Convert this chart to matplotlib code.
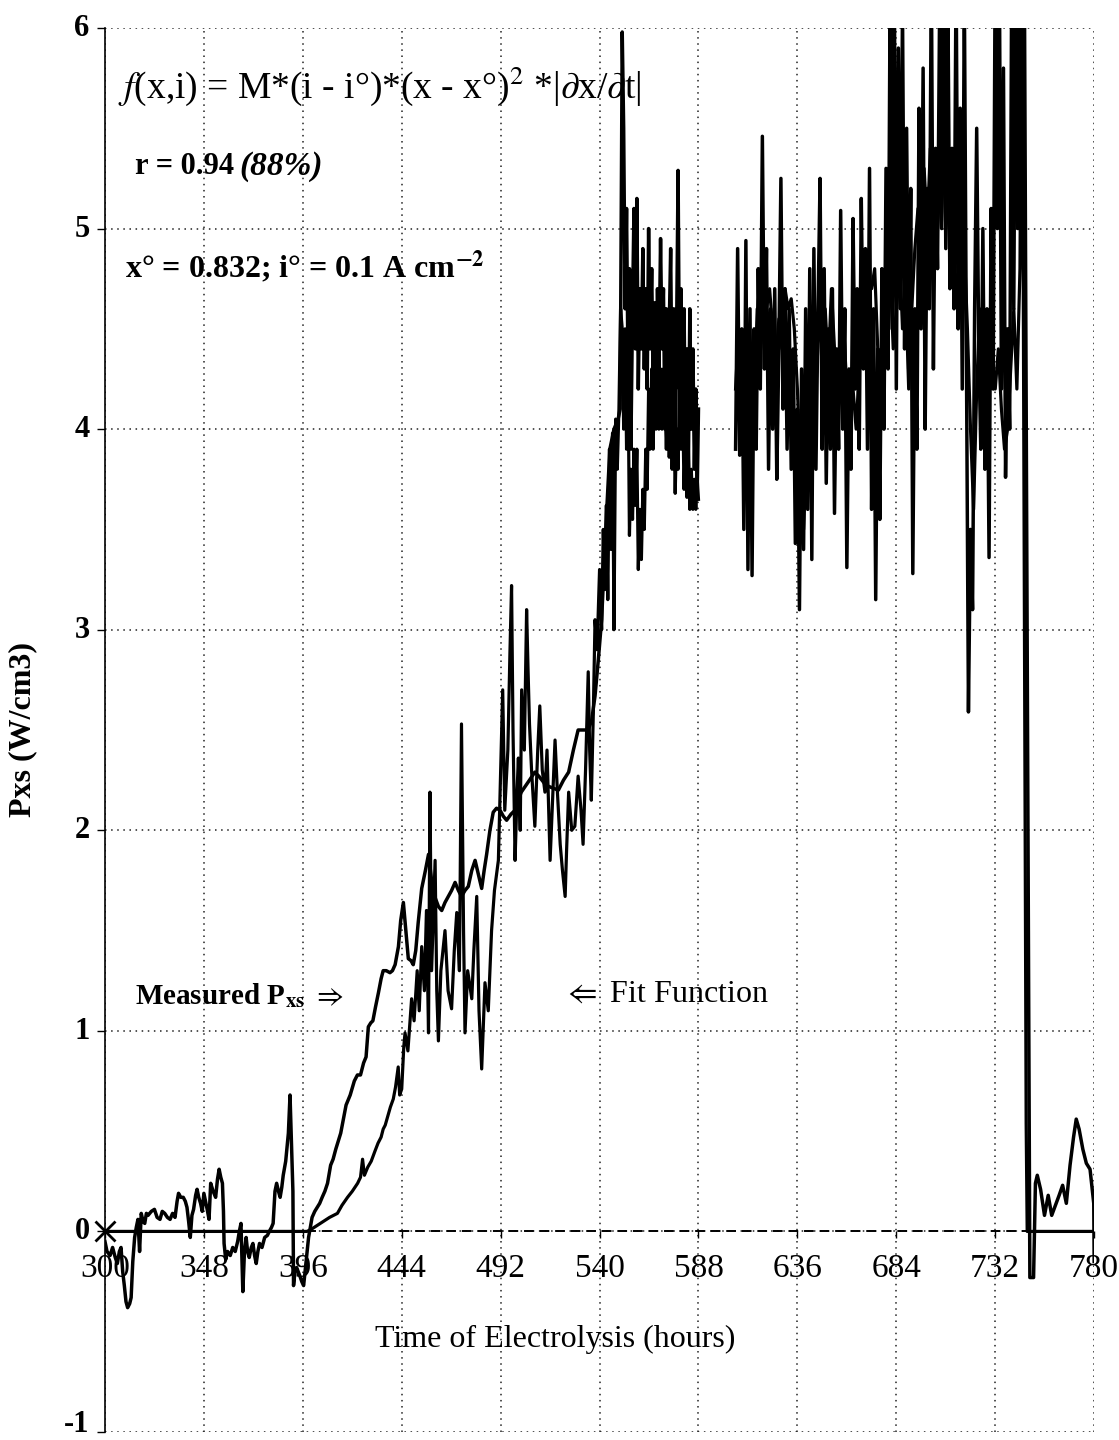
import numpy as np
import matplotlib
matplotlib.use("Agg")
import matplotlib.pyplot as plt
from matplotlib.transforms import ScaledTranslation

plt.rcParams['font.family'] = ['Liberation Serif', 'DejaVu Serif']
plt.rcParams['mathtext.fontset'] = 'stix'
plt.rcParams['axes.unicode_minus'] = False

# ---------------- data ----------------
x_ticks = [300, 348, 396, 444, 492, 540, 588, 636, 684, 732, 780]
y_ticks = [-1, 0, 1, 2, 3, 4, 5, 6]

# Measured Pxs
meas_t = [300, 301, 302.5, 303.7, 305, 306, 307, 307.8, 308.6, 309.4, 310.2, 311, 312, 312.7,
          313.5, 314.4, 315.2, 316, 316.8, 317.6, 318.5, 319.3, 320.1, 320.9, 322.5, 324, 325.3,
          326.7, 327.8, 329, 330.3, 331.6, 332.8, 334, 335, 335.7, 336.8, 338, 339, 339.8, 340.6,
          341.4, 342.2, 343, 344, 344.7, 345.5, 346.4, 347.2, 348, 348.8, 349.6, 350.5, 351.3,
          352.5, 353.7, 354.6, 355.4, 356.2, 357, 357.5, 357.8, 358.6, 359.5, 360.8, 362, 363.2,
          364.4, 365.2, 366, 366.9, 367.7, 368.5, 369.2, 370, 371, 371.8, 372.6, 373.4, 374.2,
          375, 376.2, 377.5, 378.8, 380, 380.8, 381.6, 382.5, 383.3, 384.2, 385, 385.8, 386.5,
          387.7, 389, 389.8, 390.6, 391.2, 391.5, 392.2, 393, 394.5, 395.5, 396.4, 397.6, 398.8,
          400.5, 401.8, 403, 404.2, 405.4, 406.7, 408, 409.5, 410.7, 412, 413.2, 414.4, 415.7,
          417, 419, 421, 422.5, 424, 425.5, 426.7, 427.8, 429, 430, 431.3, 432.7, 434, 435,
          436.5, 438.3, 439.5, 440.8, 442.4, 443.5, 444.8, 446, 447.2, 448.5, 449.6, 450.8, 452,
          453.7, 455.5, 457, 458.5, 460, 461.8, 463.4, 465, 466.6, 468.2, 469.9, 471.5, 473,
          474.7, 476.3, 478, 479.6, 481.2, 482.8, 484, 485.2, 486.8, 488.4, 490, 491.7, 493.3,
          494.9, 497, 499, 500.5, 502, 504, 506, 508.6, 510.5, 512.8, 515, 517.5, 520, 522.5,
          525, 527.3, 529.6, 532, 534.5, 536.2, 537.8, 539.4, 541, 543, 545, 547, 549, 550,
          551, 551.7, 552.4, 553.1, 553.8, 554.5, 555.2, 556, 556.7, 557.4, 558.1, 558.8, 559.5,
          560.3, 561, 561.7, 562.4, 563.1, 563.8, 564.5, 565.3, 566, 566.7, 567.4, 568.1, 568.8,
          569.6, 570.3, 571, 571.7, 572.4, 573.1, 573.8, 574.5, 575.2, 576, 576.7, 577.4, 578.1,
          578.8, 579.5, 580.2, 581, 581.7, 582.4, 583.1, 583.8, 584.5, 585.3, 586, 586.7, 587.4,
          588,
          597,
          606, 607, 608, 609, 610, 611, 612, 613, 614, 615, 616, 617, 618, 619, 620, 621, 622,
          623, 624, 625, 626, 627, 628, 629, 630, 631, 632, 633, 634, 635, 636, 637, 638, 639,
          640, 641, 642, 643, 644, 645, 646, 647, 648, 649, 650, 651, 652, 653, 654, 655, 656,
          657, 658, 659, 660, 661, 662, 663, 664, 665, 666, 667, 668, 669, 670, 671, 672, 673,
          674, 675, 676, 677, 678, 679, 680, 681, 682, 683, 684, 685, 686, 687, 688, 689, 690,
          691, 692, 693, 694, 695, 696, 697, 698, 699, 700, 701, 702, 703, 704, 705, 706, 707,
          708, 709, 710, 711, 712, 713, 714, 715, 716, 717, 718, 719, 720, 721, 722, 723, 724,
          725, 726, 727, 728, 729, 730, 731, 732, 733, 734, 735, 736, 737, 738, 739, 740, 741,
          742, 743, 744, 745,
          746, 748.8, 750.6, 751.5, 752.4, 754, 755.9, 757.7, 759.4, 761.2, 763, 764.7, 766.5,
          768.3, 770, 771.3, 772.7, 774.5, 776.2, 778, 779.8, 780]
meas_p = [-0.05, -0.1, -0.12, -0.08, -0.13, -0.16, -0.1, -0.08, -0.2, -0.27, -0.35, -0.38, -0.36,
          -0.33, -0.15, -0.03, 0.02, 0.06, -0.1, 0.09, 0.05, 0.04, 0.09, 0.08, 0.1, 0.11, 0.07,
          0.06, 0.1, 0.09, 0.07, 0.06, 0.09, 0.07, 0.15, 0.19, 0.17, 0.17, 0.15, 0.12, 0.05,
          -0.03, 0.08, 0.11, 0.18, 0.21, 0.17, 0.14, 0.1, 0.19, 0.15, 0.11, 0.06, 0.24,
          0.2, 0.17, 0.26, 0.31, 0.27, 0.24, 0.1, -0.06, -0.14, -0.1, -0.12, -0.08, -0.1,
          -0.05, 0.0, 0.04, -0.3, -0.1, -0.03, -0.1, -0.13, -0.08, -0.06, -0.12, -0.16, -0.1,
          -0.06, -0.08, -0.03, -0.02, 0.005, 0.02, 0.04, 0.2, 0.24, 0.2, 0.17, 0.22, 0.28,
          0.35, 0.49, 0.68, 0.41, 0.2, -0.27, -0.2, -0.18, -0.22, -0.25, -0.27, -0.15, -0.03,
          0.07, 0.1, 0.12, 0.14, 0.17, 0.2, 0.24, 0.33, 0.36, 0.41, 0.45, 0.49, 0.56,
          0.63, 0.68, 0.75, 0.78, 0.78, 0.84, 0.87, 1.02, 1.04, 1.05, 1.12, 1.19, 1.26, 1.3,
          1.3, 1.29, 1.3, 1.33, 1.42, 1.55, 1.64, 1.5, 1.36, 1.35, 1.33, 1.4, 1.54,
          1.71, 1.8, 1.88, 1.75, 1.67, 1.62, 1.6, 1.64, 1.67, 1.7, 1.74, 1.7, 1.67,
          1.7, 1.72, 1.8, 1.85, 1.78, 1.71, 1.8, 1.88, 2.0, 2.09, 2.11, 2.1, 2.07,
          2.05, 2.08, 2.1, 2.15, 2.19, 2.22, 2.25, 2.29, 2.27, 2.24, 2.22, 2.21, 2.2, 2.25,
          2.29, 2.4, 2.5, 2.5, 2.5, 2.55, 2.67, 2.85, 3.05, 3.5, 3.9, 4.0, 4.05, 4.1,
          5.98, 5.5, 4.6, 5.1, 4.3, 4.8, 3.9, 4.6, 5.1, 4.4, 5.15, 4.2, 4.7,
          4.4, 4.9, 4.3, 4.7, 4.2, 5.0, 4.4, 4.8, 4.2, 4.63, 4.1, 4.7, 4.3,
          4.95, 4.4, 4.7, 4.0, 4.6, 3.9, 4.5, 4.9, 4.1, 4.6, 3.8, 4.5, 5.29,
          4.2, 4.7, 4.0, 4.6, 3.9, 4.4, 3.8, 4.6, 4.0, 4.4, 3.8, 4.2, 3.7,
          4.1,
          np.nan,
          3.9, 4.9, 3.87, 4.5, 3.5, 4.94, 3.3, 4.6, 3.27, 4.5, 3.9, 4.8, 4.2, 5.46, 4.3, 4.9, 3.8,
          4.6, 4.0, 4.7, 3.75, 4.4, 5.25, 4.1, 4.7, 3.9, 4.6, 3.8, 4.4, 3.43, 4.1, 3.1, 4.3, 3.4,
          4.6, 3.6, 4.8, 3.35, 4.9, 3.8, 4.6, 5.25, 3.9, 4.8, 3.73, 4.5, 3.9, 4.7, 3.58, 4.4, 3.9,
          5.09, 4.0, 4.6, 3.31, 4.3, 3.8, 5.05, 4.2, 4.7, 3.9, 5.15, 4.3, 4.9, 3.9, 5.3, 3.6, 4.6,
          3.15, 4.4, 3.55, 4.8, 4.0, 5.3, 4.3, 6.2, 4.5, 6.3, 4.2, 5.9, 4.6, 6.1, 4.4, 5.5, 4.3,
          5.2, 3.28, 4.6, 3.9, 5.6, 4.5, 5.8, 4.0, 5.2, 4.6, 6.3, 4.3, 5.4, 4.8, 6.1, 5.0, 6.4,
          4.9, 6.2, 4.7, 5.4, 4.6, 6.3, 4.5, 5.6, 4.2, 6.2, 4.4, 2.59, 3.5, 3.1, 4.6, 5.5, 4.4,
          3.9, 5.0, 3.8, 4.6, 3.36, 5.1, 4.2, 6.4, 5.0, 6.3, 4.2, 5.8, 3.76, 4.5, 4.0, 6.3, 4.6,
          6.5, 5.0, 6.6, 5.8,
          6.6, -0.23, -0.23, 0.24, 0.28, 0.21, 0.08, 0.18, 0.08, 0.13, 0.18, 0.23, 0.14,
          0.33, 0.47, 0.56, 0.51, 0.41, 0.34, 0.31, 0.14, -0.15]

# Fit function
fit_t = [300, 398, 400, 403, 406, 409, 412.8, 415, 417.7, 420, 422.6, 424, 425, 425.9, 427.5,
         429.2, 431, 432.5, 434, 435, 436, 437.4, 438.5, 439.9, 441, 442.3, 443, 444, 445,
         445.6, 447, 448.8, 450, 451.5, 452.5, 453.7, 455, 456, 457, 457.7, 458.5, 460.2, 461,
         461.8, 463, 465, 466.5, 468.2, 469.5, 470.7, 472, 473, 474, 474.7, 476, 478, 479,
         480.4, 481.5, 482.8, 483.5, 484.4, 486, 487.6, 489, 490.9, 492, 493, 494, 495.5,
         496.5, 497.3, 498, 499, 500, 500.6, 501.5, 502.2, 503.5, 504.6, 505.3, 506, 507,
         508.6, 510, 511, 512.2, 513.5, 514.5, 516, 517, 518.4, 519.5, 520.9, 522, 523.3,
         524, 525, 526.5, 528, 529.6, 531, 532, 533.2, 534.5, 535.2, 536, 537, 537.8, 538.8,
         540, 541, 541.8, 542.6, 543.3, 544, 544.8, 545.6, 546.3, 547, 547.8, 548.6, 549.4,
         550.2, 551, 551.7, 552.4, 553.1, 553.8, 554.5, 555.2, 556, 556.7, 557.4, 558.1, 558.8,
         559.5, 560.3, 561, 561.7, 562.4, 563.1, 563.8, 564.5, 565.3, 566, 566.7, 567.4, 568.1,
         568.8, 569.6, 570.3, 571, 571.7, 572.4, 573.1, 573.8, 574.5, 575.2, 576, 576.7, 577.4,
         578.1, 578.8, 579.5, 580.2, 581, 581.7, 582.4, 583.1, 583.8, 584.5, 585.3, 586, 586.7,
         587.4, 588,
         597,
         606, 607.5, 609, 610.5, 612, 613.5, 615, 616.5, 618, 619.5, 621, 622.5, 624, 625.5,
         627, 628.5, 630, 631.5, 633, 634.5, 636, 637.5, 639, 640.5, 642, 643.5, 645, 646.5,
         648, 649.5, 651, 652.5, 654, 655.5, 657, 658.5, 660, 661.5, 663, 664.5, 666, 667.5,
         669, 670.5, 672, 673.5, 675, 676.5, 678, 679.5, 681, 682.5, 684, 685.5, 687, 688.5,
         690, 691.5, 693, 694.5, 696, 697.5, 699, 700.5, 702, 703.5, 705, 706.5, 708, 709.5,
         711, 712.5, 714, 715.5, 717, 718.5, 720, 721.5, 723, 724.5, 726, 727.5, 729, 730.5,
         732, 733.5, 735, 736.5, 738, 739.5, 741, 742.5, 744, 745, 747, 747.5, 780]
fit_p = [0, 0, 0.01, 0.03, 0.05, 0.07, 0.09, 0.13, 0.17, 0.2, 0.24, 0.27, 0.36, 0.28, 0.32,
         0.35, 0.40, 0.44, 0.47, 0.51, 0.53, 0.58, 0.62, 0.66, 0.72, 0.82, 0.68, 0.71, 0.92,
         0.99, 0.9, 1.16, 1.05, 1.3, 1.1, 1.42, 1.2, 1.6, 0.99, 2.19, 1.3, 1.85, 1.2,
         0.95, 1.3, 1.5, 1.2, 1.11, 1.4, 1.59, 1.3, 2.53, 1.5, 0.99, 1.3, 1.16, 1.4,
         1.67, 1.1, 0.81, 1.0, 1.24, 1.1, 1.5, 1.7, 1.85, 2.3, 2.7, 2.1, 2.4,
         2.88, 3.22, 2.5, 1.85, 2.2, 2.36, 2.0, 2.7, 2.4, 3.1, 2.8, 2.53, 2.3,
         2.02, 2.4, 2.62, 2.3, 2.19, 2.4, 1.85, 2.1, 2.45, 2.2, 1.93, 1.8, 1.67,
         1.9, 2.19, 2.0, 2.02, 2.27, 2.1, 1.93, 2.3, 2.79, 2.4, 2.15, 2.6, 3.05, 2.9,
         3.3, 3.0, 3.5, 3.2, 3.62, 3.15, 3.9, 3.4, 3.98, 3.0, 4.05, 3.8, 4.1,
         4.6, 4.5, 4.0, 4.5, 3.9, 4.3, 3.47, 3.8, 3.55, 3.9, 3.62, 3.9, 3.3,
         3.6, 3.35, 3.7, 3.5, 3.9, 3.7, 4.2, 3.9, 4.3, 3.9, 4.3, 4.0, 4.4,
         4.0, 4.3, 4.0, 4.3, 4.16, 3.9, 4.2, 3.86, 4.1, 3.8, 4.1, 3.68, 4.0,
         3.8, 4.2, 3.9, 4.2, 3.7, 4.0, 3.66, 3.9, 3.6, 3.8, 3.6, 3.75, 3.6,
         3.75, 3.65,
         np.nan,
         4.2, 4.5, 4.0, 4.4, 3.9, 4.3, 4.1, 4.6, 4.3, 4.8, 4.6, 4.7, 4.5, 4.3,
         4.55, 4.4, 4.7, 4.6, 4.65, 4.5, 4.2, 3.8, 3.5, 3.9, 4.3, 4.5, 4.2, 4.55,
         4.4, 4.6, 4.3, 4.7, 4.4, 4.1, 4.3, 4.5, 4.2, 4.0, 4.2, 4.0, 4.3, 4.6,
         4.5, 4.75, 4.7, 4.8, 4.4, 4.1, 4.3, 4.5, 4.8, 4.4, 4.6, 4.9, 4.5, 4.7,
         4.2, 4.6, 4.9, 5.1, 4.8, 5.3, 5.0, 5.4, 5.1, 4.9, 5.2, 5.5, 5.0, 5.4,
         4.9, 5.2, 4.8, 4.6, 4.9, 4.5, 4.0, 3.6, 4.2, 4.6, 4.4, 4.3, 4.5, 4.35,
         4.2, 4.4, 4.1, 3.9, 4.0, 4.3, 4.6, 4.2, 4.8, 6.5, 0.54, 0.0, 0.0]

# ---------------- figure ----------------
fig = plt.figure(figsize=(11.19, 14.40), dpi=100)
ax = fig.add_axes([0.0938, 0.00556, 0.884, 0.975])

ax.plot(fit_t, fit_p, color='black', lw=2.3, zorder=3)
ax.plot(meas_t, meas_p, color='black', lw=2.5, zorder=4)
ax.plot([300], [0], marker='x', color='black', ms=14, mew=2, zorder=5, clip_on=False)

ax.set_xlim(300, 780)
ax.set_ylim(-1, 6)
ax.set_xticks(x_ticks)
ax.set_yticks(y_ticks)
ax.set_xticklabels([str(v) for v in x_ticks])
ax.set_yticklabels([str(v) for v in y_ticks])

for s in ['top', 'right']:
    ax.spines[s].set_visible(False)
ax.spines['left'].set_linewidth(1.2)
ax.spines['bottom'].set_position(('data', 0))
ax.spines['bottom'].set_linestyle((0, (4, 4)))
ax.spines['bottom'].set_linewidth(1.4)

ax.grid(True, color='#222222', linestyle=(0, (1, 3)), linewidth=1.1)
ax.set_axisbelow(True)

ax.tick_params(axis='y', direction='out', length=6, width=1, pad=5, labelsize=22)
ax.tick_params(axis='x', direction='out', length=5, width=1, pad=11, labelsize=24)
for lab, val in zip(ax.get_yticklabels(), y_ticks):
    lab.set_fontweight('bold')
    up = 11 if val == -1 else 3
    lab.set_transform(lab.get_transform() +
                      ScaledTranslation(0, up / 100, fig.dpi_scale_trans))

ax.set_xlabel('Time of Electrolysis (hours)', fontsize=23)
ax.xaxis.set_label_coords(0.455, 0.076)
ax.set_ylabel('Pxs (W/cm3)', fontsize=23, fontweight='bold')
ax.yaxis.set_label_coords(-0.068, 0.5)

# ---------------- annotations ----------------
ax.text(306.3, 5.71, r'$f$(x,i) = M*(i - i°)*(x - x°)$^2$ *|$\partial$x/$\partial$t|',
        fontsize=27, va='center', ha='left')
ax.text(314.6, 5.31, 'r = 0.94', fontsize=22, fontweight='bold', va='center', ha='left')
ax.text(365.0, 5.31, '(88%)', fontsize=24, fontweight='bold', fontstyle='italic',
        va='center', ha='left')
ax.text(309.7, 4.81, r'x° = 0.832; i° = 0.1 A cm$^{\mathbf{-2}}$', fontsize=23,
        fontweight='bold', va='center', ha='left')
ax.text(314.6, 1.175, r'Measured P$_{\mathbf{xs}}$ $\Rightarrow$', fontsize=21,
        fontweight='bold', va='center', ha='left')
ax.text(522.3, 1.185, r'$\Leftarrow$ Fit Function', fontsize=23, va='center', ha='left')

fig.savefig('out.png', dpi=100, facecolor='white')
